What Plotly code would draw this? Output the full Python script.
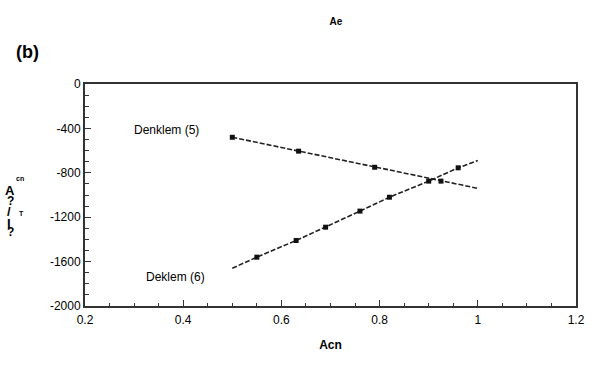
import plotly.graph_objects as go

# Data
eq5_x = [0.5, 0.635, 0.79, 0.925, 1.0]
eq5_y = [-480, -605, -750, -875, -940]
eq5_marker_x = [0.5, 0.635, 0.79, 0.925]
eq5_marker_y = [-480, -605, -750, -875]

eq6_x = [0.5, 0.55, 0.63, 0.69, 0.76, 0.82, 0.9, 0.96, 1.0]
eq6_y = [-1660, -1560, -1410, -1290, -1145, -1020, -875, -755, -690]
eq6_marker_x = [0.55, 0.63, 0.69, 0.76, 0.82, 0.9, 0.96]
eq6_marker_y = [-1560, -1410, -1290, -1145, -1020, -875, -755]

x_ticks = [0.2, 0.4, 0.6, 0.8, 1.0, 1.2]
x_tick_labels = ["0.2", "0.4", "0.6", "0.8", "1", "1.2"]
y_ticks = [0, -400, -800, -1200, -1600, -2000]
y_tick_labels = ["0", "-400", "-800", "-1200", "-1600", "-2000"]

FONT = "Liberation Sans, Arial, sans-serif"
LINE = "#222222"

PL, PR, PT, PB = 85, 585, 84, 306  # plot area in screen pixels
W, H = 595, 365

fig = go.Figure()
for xs, ys, mx, my in [(eq5_x, eq5_y, eq5_marker_x, eq5_marker_y),
                       (eq6_x, eq6_y, eq6_marker_x, eq6_marker_y)]:
    fig.add_trace(go.Scatter(x=xs, y=ys, mode="lines",
                             line=dict(color=LINE, width=1.6, dash="5px,2px"),
                             showlegend=False, hoverinfo="skip"))
    fig.add_trace(go.Scatter(x=mx, y=my, mode="markers",
                             marker=dict(symbol="square", size=5, color="#111111"),
                             showlegend=False, hoverinfo="skip"))

fig.update_layout(
    width=W, height=H,
    margin=dict(l=PL, r=W - PR, t=PT, b=H - PB),
    paper_bgcolor="white", plot_bgcolor="white",
    font=dict(family=FONT, size=12, color="black"),
    title=dict(text="<b>Ae</b>", x=336 / W, xanchor="center",
               y=1 - 21 / H, yanchor="middle", font=dict(size=10)),
    xaxis=dict(range=[0.2, 1.2], tickvals=x_ticks, ticktext=x_tick_labels,
               showgrid=False, zeroline=False, showline=True, linecolor="#333333",
               linewidth=2, mirror=True, ticks="inside", ticklen=6, tickcolor="#333333",
               minor=dict(dtick=0.05, ticks="inside", ticklen=3, tickcolor="#333333"),
               tickfont=dict(size=12), ticklabelstandoff=2,
               title=dict(text="<b>Acn</b>", font=dict(size=12), standoff=14)),
    yaxis=dict(range=[-2000, 0], tickvals=y_ticks, ticktext=y_tick_labels,
               showgrid=False, zeroline=False, showline=True, linecolor="#333333",
               linewidth=2, mirror=True, ticks="inside", ticklen=6, tickcolor="#333333",
               minor=dict(dtick=100, ticks="inside", ticklen=4, tickcolor="#333333"),
               tickfont=dict(size=12)),
)

ann = [
    dict(text="<b>(b)</b>", x=13, y=52, size=18, xanchor="left"),
    dict(text="Denklem (5)", x=133, y=130, size=12, xanchor="left"),
    dict(text="Deklem (6)", x=145, y=277, size=12, xanchor="left"),
    dict(text="<b>cn</b>", x=19, y=178, size=7, xanchor="center"),
    dict(text="<b>A</b>", x=9, y=190, size=13, xanchor="center"),
    dict(text="<b>?</b>", x=9, y=201, size=12, xanchor="center"),
    dict(text="<b>/</b>", x=8, y=211, size=13, xanchor="center"),
    dict(text="<b>T</b>", x=20, y=213, size=7, xanchor="center"),
    dict(text="<b>I</b>", x=8, y=223, size=13, xanchor="center"),
    dict(text="<b>?</b>", x=9, y=232, size=12, xanchor="center"),
]
for a in ann:
    fig.add_annotation(text=a["text"], xref="paper", yref="paper",
                       x=(a["x"] - PL) / (PR - PL), y=(PB - a["y"]) / (PB - PT),
                       xanchor=a["xanchor"], yanchor="middle", showarrow=False,
                       font=dict(family=FONT, size=a["size"], color="black"))

fig.write_html("out.html", config={"displayModeBar": False},
               post_script="document.body.style.margin='0px';document.body.style.padding='0px';")
